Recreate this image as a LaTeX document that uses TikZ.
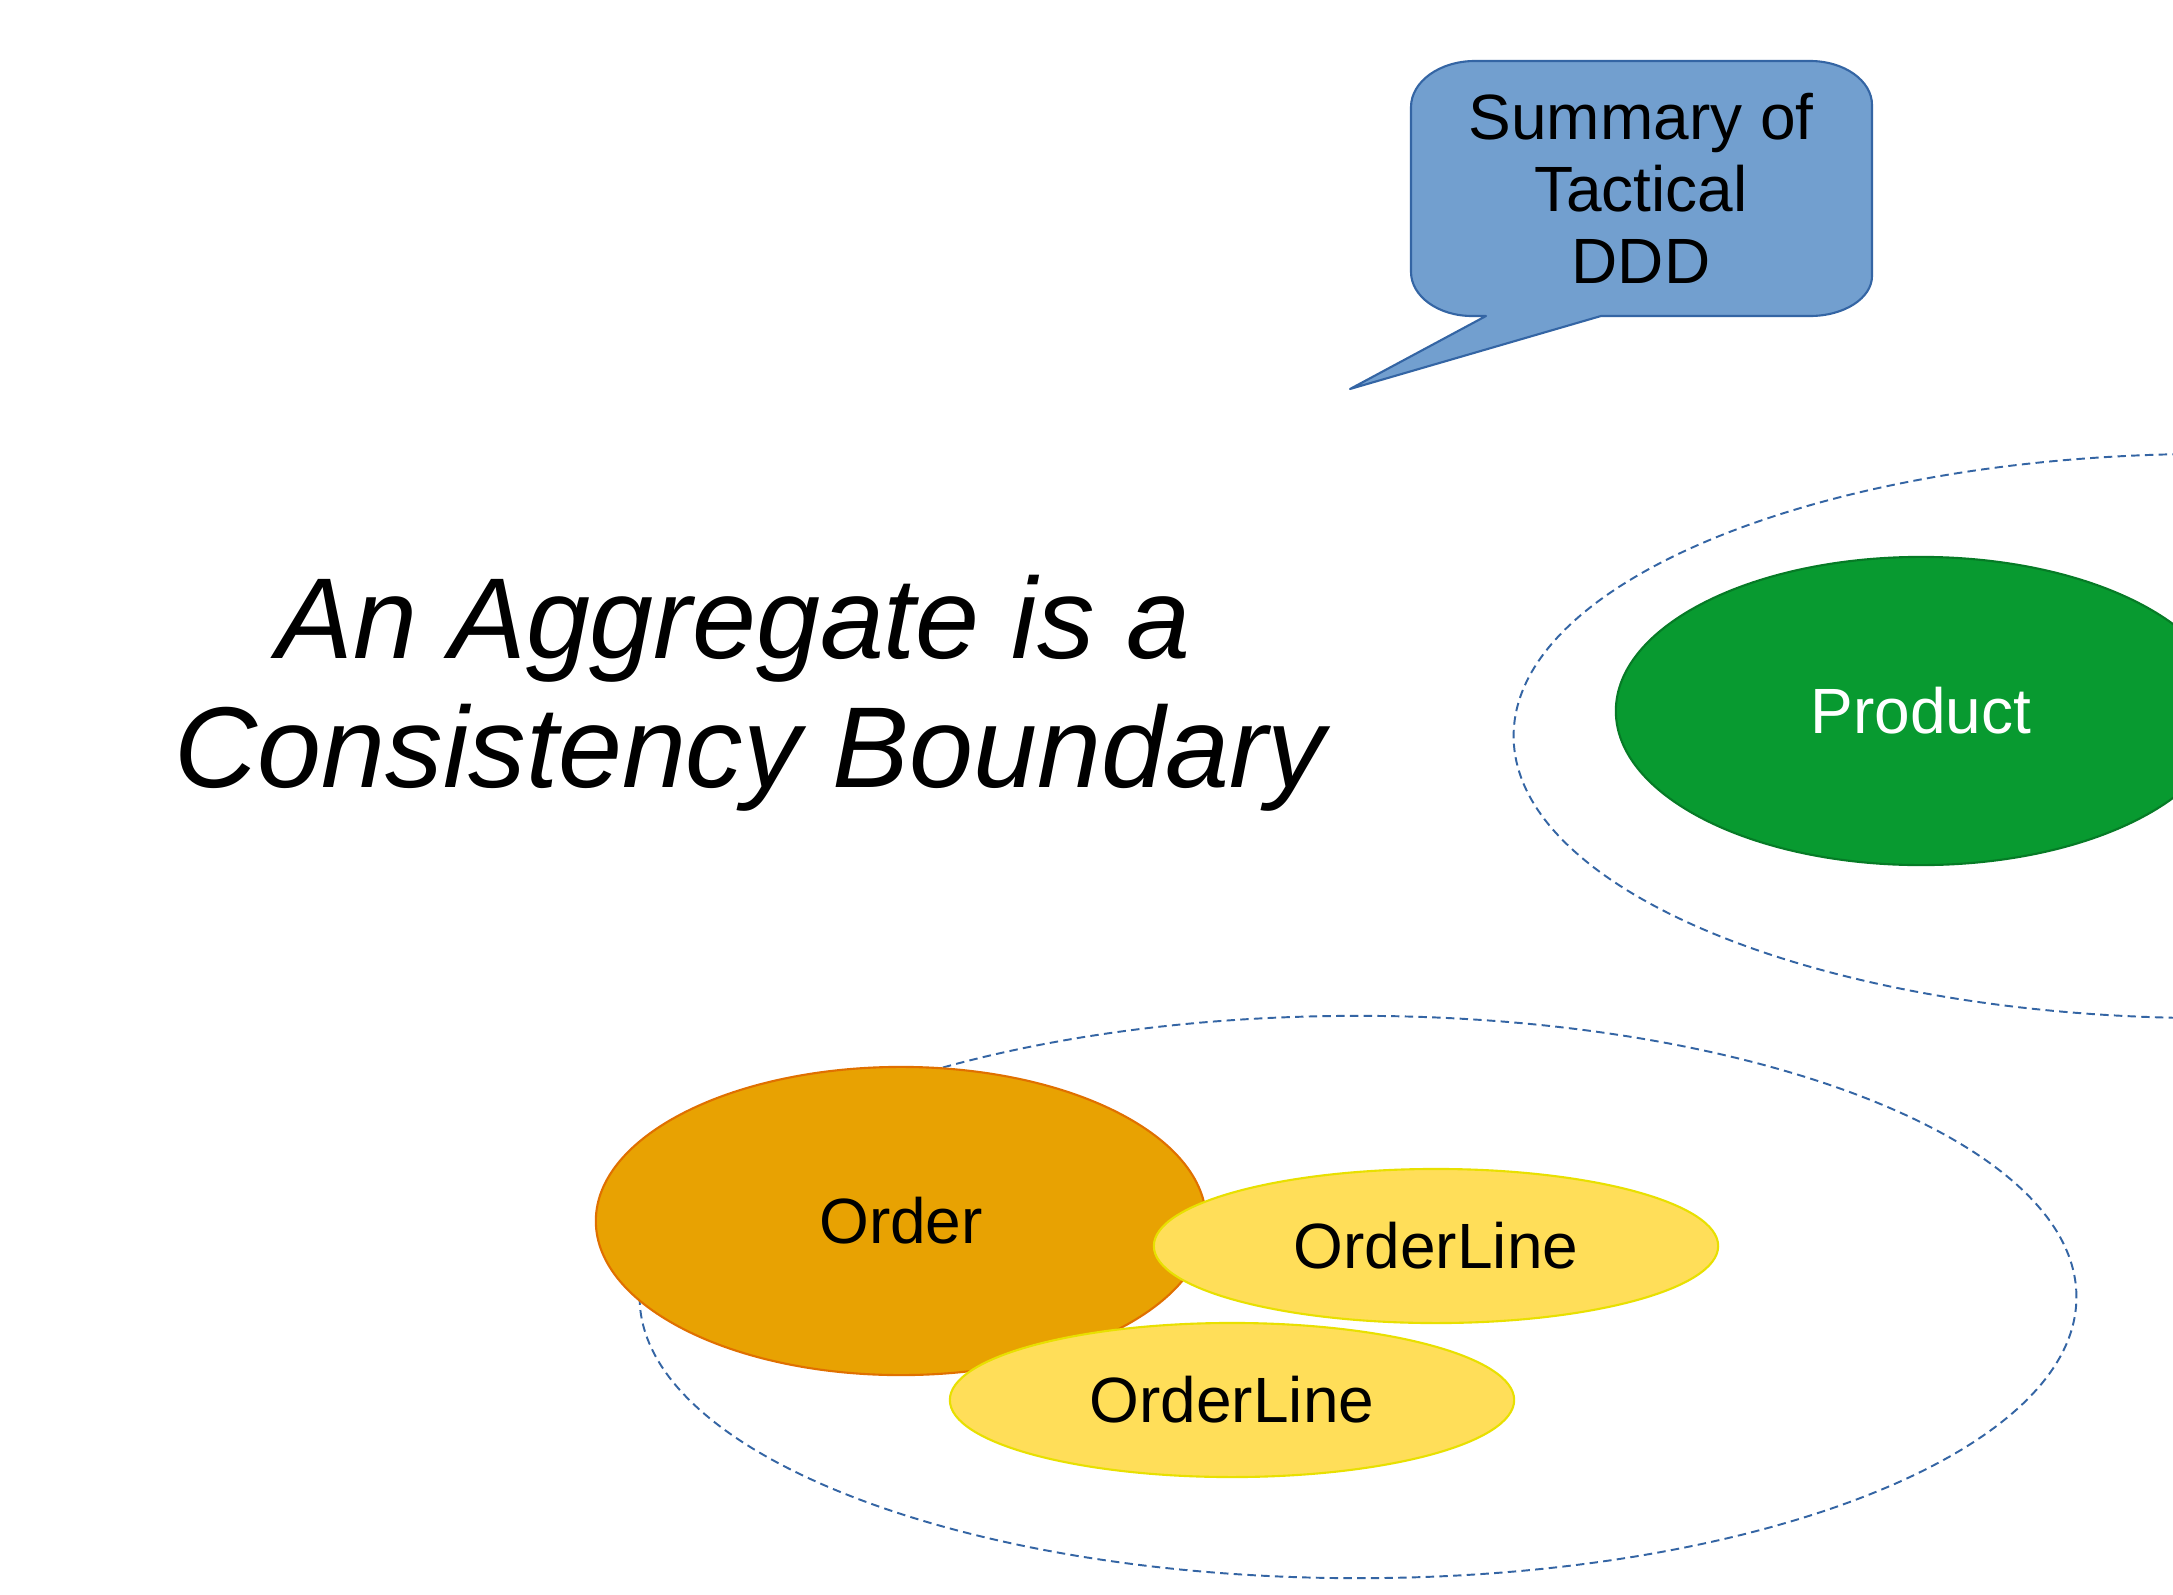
\documentclass[tikz,border=0pt]{standalone}
\usepackage{fontspec}
\setmainfont{Liberation Sans}
\usetikzlibrary{shapes.geometric}
\definecolor{bubfill}{HTML}{729FCF}
\definecolor{bubline}{HTML}{3465A4}
\definecolor{prodgreen}{HTML}{089A30}
\definecolor{orderfill}{HTML}{E8A202}
\definecolor{orderline}{HTML}{E07000}
\definecolor{linefill}{HTML}{FFDE59}
\definecolor{lineedge}{HTML}{E8E000}
\tikzset{
  boundary/.style={ellipse, draw=bubline, line width=0.55pt, dash pattern=on 2.4pt off 1.5pt, inner sep=0pt},
  entity/.style={ellipse, inner sep=0pt, line width=0.6pt, font=\fontsize{18.2}{20.5}\selectfont},
  label/.style={align=center, inner sep=0pt},
}
\begin{document}
\begin{tikzpicture}[x=0.01cm, y=0.01cm]
\clip (0,0) rectangle (2173,-1594);
\fill[white] (0,0) rectangle (2173,-1594);
% boundaries
\node[boundary, minimum width=13.96cm, minimum height=5.64cm] (prodbound) at (2212,-736) {};
\node[boundary, minimum width=14.36cm, minimum height=5.62cm] (orderbound) at (1358,-1297) {};
% entities
\node[entity, fill=prodgreen, draw=prodgreen!80!black, minimum width=6.10cm, minimum height=3.08cm, text=white] (product) at (1921,-711) {Product};
\node[entity, fill=orderfill, draw=orderline, minimum width=6.10cm, minimum height=3.08cm] (order) at (901,-1221) {Order};
\node[entity, fill=linefill, draw=lineedge, minimum width=5.64cm, minimum height=1.54cm] (line1) at (1436,-1246) {OrderLine};
\node[entity, fill=linefill, draw=lineedge, minimum width=5.64cm, minimum height=1.54cm] (line2) at (1232,-1400) {OrderLine};
% speech bubble
\draw[fill=bubfill, draw=bubline, line width=0.6pt, line join=round]
  (1486,-316) -- (1472,-316)
  arc[start angle=270, end angle=180, x radius=61, y radius=44]
  -- (1411,-107)
  arc[start angle=180, end angle=90, x radius=64, y radius=46]
  -- (1810,-61)
  arc[start angle=90, end angle=0, x radius=62, y radius=44]
  -- (1872,-276)
  arc[start angle=0, end angle=-90, x radius=62, y radius=40]
  -- (1601,-316) -- (1350,-389) -- cycle;
\node[label, font=\fontsize{18.2}{20.5}\selectfont] (summary) at (1641,-188) {Summary of\\Tactical\\DDD};
% title
\node[label, font=\fontsize{32.7}{36.7}\selectfont\itshape] (title) at (750,-693) {An Aggregate is a\hspace*{0.28em}\\Consistency Boundary};
\end{tikzpicture}
\end{document}
